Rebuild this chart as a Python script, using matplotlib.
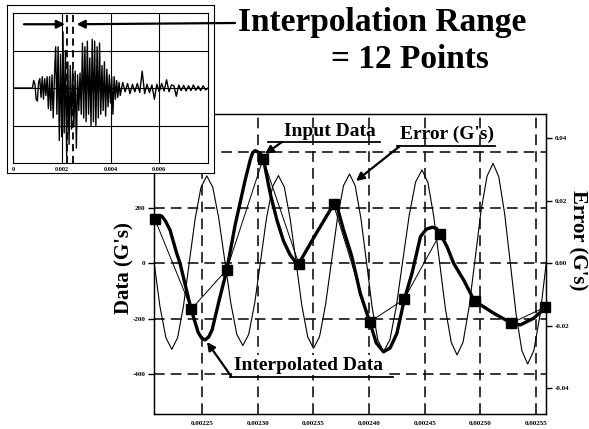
import matplotlib.pyplot as plt
from matplotlib.lines import Line2D

plt.rcParams['font.family'] = ['Liberation Serif', 'DejaVu Serif']
plt.rcParams['font.weight'] = 'bold'

# ---- main plot data (time in s, data in G's) ----
input_t = [0.0022077, 0.0022404, 0.0022722, 0.0023048, 0.0023370, 0.0023681,
           0.0024006, 0.0024314, 0.0024635, 0.0024948, 0.0025280, 0.0025582]
input_g = [157, -166, -24, 375, -4, 211, -212, -131, 103, -137, -216, -159]

interp_t = [0.0022077, 0.0022110, 0.0022138, 0.0022170, 0.0022212, 0.0022272,
            0.0022302, 0.0022401, 0.0022464, 0.0022495, 0.0022527, 0.0022560,
            0.0022590, 0.0022647, 0.0022722, 0.0022797, 0.0022887, 0.0022932,
            0.0022955, 0.0022977, 0.0023023, 0.0023051, 0.0023112, 0.0023172,
            0.0023231, 0.0023290, 0.0023336, 0.0023366, 0.0023523, 0.0023681,
            0.0023705, 0.0023771, 0.0023846, 0.0023921, 0.0024005, 0.0024065,
            0.0024130, 0.0024190, 0.0024251, 0.0024317, 0.0024386, 0.0024462,
            0.0024515, 0.0024567, 0.0024605, 0.0024640, 0.0024701, 0.0024760,
            0.0024850, 0.0024946, 0.0025120, 0.0025278, 0.0025360, 0.0025479,
            0.0025585]
interp_g = [157, 166, 169, 152, 119, 35,
            -1, -166, -249, -270, -277, -266,
            -241, -145, -25, 137, 299, 371,
            398, 405, 396, 375, 251, 155,
            80, 30, 5, -4, 105, 211,
            215, 119, 23, -109, -211, -288,
            -320, -306, -253, -131, -37, 95,
            122, 129, 125, 105, 59, -1,
            -61, -136, -181, -216, -223, -199,
            -161]

err_t = [0.0022068, 0.0022121, 0.0022175, 0.0022228,
         0.0022280, 0.0022333, 0.0022385, 0.0022437, 0.0022490, 0.0022542,
         0.0022596, 0.0022650, 0.0022704, 0.0022758, 0.0022812, 0.0022866,
         0.0022919, 0.0022973, 0.0023026, 0.0023079, 0.0023133, 0.0023186,
         0.0023239, 0.0023291, 0.0023344, 0.0023396, 0.0023449, 0.0023501,
         0.0023555, 0.0023609, 0.0023663, 0.0023717, 0.0023771, 0.0023825,
         0.0023876, 0.0023927, 0.0023978, 0.0024028, 0.0024079, 0.0024130,
         0.0024188, 0.0024245, 0.0024303, 0.0024361, 0.0024418, 0.0024476,
         0.0024529, 0.0024581, 0.0024634, 0.0024686, 0.0024739, 0.0024791,
         0.0024845, 0.0024899, 0.0024953, 0.0025006, 0.0025060, 0.0025114,
         0.0025166, 0.0025218, 0.0025270, 0.0025321, 0.0025373, 0.0025425,
         0.0025481, 0.0025538, 0.0025594]
err_g = [0.0005, -0.0138, -0.0239, -0.0276,
         -0.0239, -0.0137, 0.0002, 0.0140, 0.0242, 0.0279,
         0.0243, 0.0143, 0.0008, -0.0128, -0.0228, -0.0264,
         -0.0228, -0.0128, 0.0008, 0.0144, 0.0244, 0.0280,
         0.0243, 0.0142, 0.0004, -0.0135, -0.0236, -0.0273,
         -0.0236, -0.0134, 0.0006, 0.0146, 0.0248, 0.0285,
         0.0247, 0.0143, 0.0001, -0.0142, -0.0246, -0.0284,
         -0.0245, -0.0139, 0.0007, 0.0153, 0.0259, 0.0298,
         0.0258, 0.0150, 0.0002, -0.0146, -0.0254, -0.0294,
         -0.0253, -0.0141, 0.0013, 0.0166, 0.0278, 0.0319,
         0.0276, 0.0159, -0.0002, -0.0163, -0.0280, -0.0323,
         -0.0280, -0.0162, 0.0005]

x_ticks = [0.00225, 0.00230, 0.00235, 0.00240, 0.00245, 0.00250, 0.00255]
x_labels = ['0.00225', '0.00230', '0.00235', '0.00240', '0.00245', '0.00250', '0.00255']
left_ticks = [400, 200, 0, -200, -400]
left_labels = ['400', '200', '0', '-200', '-400']
right_ticks = [0.04, 0.02, 0.0, -0.02, -0.04]
right_labels = ['0.04', '0.02', '0.00', '-0.02', '-0.04']

# ---- inset: full record (time in ms, arbitrary units) ----
inset_ms = [0.0, 0.80,
            0.85, 0.90, 0.95, 1.00, 1.05, 1.10, 1.15, 1.20, 1.25, 1.30, 1.35, 1.40,
            1.45, 1.50, 1.55, 1.60, 1.65, 1.70,
            1.75, 1.80, 1.85, 1.90, 1.95, 2.00, 2.05, 2.10, 2.15, 2.20, 2.25, 2.30,
            2.35, 2.40, 2.45, 2.50, 2.55, 2.60, 2.65, 2.70, 2.75, 2.80, 2.85, 2.90,
            2.95, 3.00, 3.05, 3.10, 3.15, 3.20, 3.25, 3.30, 3.35, 3.40, 3.45, 3.50,
            3.55, 3.60, 3.65, 3.70, 3.75, 3.80, 3.85, 3.90, 3.95, 4.00, 4.05, 4.10,
            4.15, 4.20, 4.25, 4.30, 4.35, 4.40,
            4.5, 4.6, 4.7, 4.8, 4.9, 5.0, 5.1, 5.2, 5.3, 5.4, 5.5, 5.6, 5.7, 5.8,
            5.9, 6.0, 6.1, 6.2, 6.3, 6.4, 6.5, 6.6, 6.7, 6.8, 6.9, 7.0, 7.1, 7.2,
            7.3, 7.4, 7.5, 7.6, 7.7, 7.8, 7.9, 8.0]
inset_v = [0.0, 0.0,
           0.2, 0.1, -0.3, -0.35, 0.15, 0.25, -0.25, 0.3, -0.3, 0.25, -0.2, 0.3,
           -0.55, 0.3, -0.6, 0.35, -0.8, 0.3,
           1.1, -0.7, 1.1, -1.4, 0.9, -1.3, 1.5, -1.2, 1.0, -1.8, 0.7, -1.5,
           0.6, -1.1, 0.5, -1.0, 0.45, -1.6, 0.35, -0.6, 0.4, -0.7, 1.2, -0.8,
           1.1, -0.9, 1.25, -0.7, 0.8, -1.0, 1.3, -0.9, 1.25, -1.0, 1.1, -0.8,
           1.2, -0.7, 0.6, -0.6, 0.7, -0.75, 0.5, -0.5, 0.35, -0.4, 0.3, -0.7,
           0.3, -0.3, 0.2, -0.25, 0.15, -0.2,
           0.15, -0.1, 0.12, -0.15, 0.1, -0.1, 0.12, -0.12, 0.45, -0.15, 0.1, -0.12, 0.08, -0.3,
           0.1, -0.1, 0.12, -0.08, 0.22, -0.1, 0.08, 0.06, -0.22, 0.08, -0.07, 0.07, -0.08, 0.06,
           -0.07, 0.08, -0.06, 0.05, -0.07, 0.06, -0.05, 0.0]
window_ms = [2.21, 2.47]
inset_ticks = [0.0, 2.0, 4.0, 6.0]
inset_labels = ['0', '0.002', '0.004', '0.006']

W, H = 589, 429
fig = plt.figure(figsize=(W / 100, H / 100), dpi=100)


def fx(px):
    return px / W


def fy(py):
    return 1 - py / H


# ---- main axes ----
ax = fig.add_axes([fx(154), fy(414), fx(546) - fx(154), fy(114) - fy(414)])
ax.plot(input_t, input_g, color='k', lw=0.7, zorder=3)
ax.plot(input_t, input_g, 's', color='k', ms=7, zorder=5, clip_on=False)
ax.plot(interp_t, interp_g, color='k', lw=2.4, zorder=4,
        solid_joinstyle='round', solid_capstyle='round')
ax.set_xlim(0.0022068, 0.002559)
ax.set_ylim(-544, 537)
ax.set_xticks(x_ticks)
ax.set_xticklabels(x_labels)
ax.set_yticks(left_ticks)
ax.set_yticklabels(left_labels)
ax.grid(True, color='k', lw=1.1, linestyle=(0, (7, 4)))
ax.tick_params(axis='x', length=0, pad=5, labelsize=5)
ax.tick_params(axis='y', length=4, width=1, direction='out', labelsize=5, pad=2)
for s in ax.spines.values():
    s.set_linewidth(1.0)

ax2 = ax.twinx()
ax2.plot(err_t, err_g, color='k', lw=0.8)
ax2.set_ylim(-0.0483, 0.0477)
ax2.set_yticks(right_ticks)
ax2.set_yticklabels(right_labels)
ax2.tick_params(axis='y', length=4, width=1, direction='out', labelsize=5, pad=2)

fig.text(fx(124), fy(268), "Data (G's)", rotation=90, ha='center', va='center',
         fontsize=15, weight='bold')
fig.text(fx(578), fy(240), "Error (G's)", rotation=-90, ha='center', va='center',
         fontsize=15, weight='bold')

# ---- annotations on main plot ----
arrow_kw = dict(arrowstyle='-|>', color='k', lw=1.6, mutation_scale=12, shrinkA=0, shrinkB=0)

fig.text(fx(330), fy(131), "Input Data", ha='center', va='center', fontsize=14, weight='bold')
fig.add_artist(Line2D([fx(268), fx(380)], [fy(142), fy(142)], color='k', lw=1.3))
ax.annotate('', xy=(fx(265), fy(154)), xycoords='figure fraction',
            xytext=(fx(282), fy(142)), textcoords='figure fraction', arrowprops=arrow_kw)

fig.text(fx(447), fy(134), "Error (G's)", ha='center', va='center', fontsize=14, weight='bold')
fig.add_artist(Line2D([fx(397), fx(495)], [fy(146), fy(146)], color='k', lw=1.3))
ax.annotate('', xy=(fx(356), fy(181)), xycoords='figure fraction',
            xytext=(fx(400), fy(146)), textcoords='figure fraction', arrowprops=arrow_kw)

fig.text(fx(309), fy(365), "Interpolated Data", ha='center', va='center', fontsize=14,
         weight='bold', bbox=dict(fc='white', ec='none', pad=1), zorder=6)
fig.add_artist(Line2D([fx(230), fx(393)], [fy(377), fy(377)], color='k', lw=1.3, zorder=7))
ax.annotate('', xy=(fx(207), fy(342)), xycoords='figure fraction',
            xytext=(fx(231), fy(376)), textcoords='figure fraction', arrowprops=arrow_kw)

# ---- inset ----
frame = fig.add_axes([fx(7), fy(173), fx(214) - fx(7), fy(5) - fy(173)])
frame.set_xticks([])
frame.set_yticks([])
frame.set_facecolor('white')
frame.set_zorder(5)

ia = fig.add_axes([fx(13), fy(163), fx(208) - fx(13), fy(13) - fy(163)])
ia.set_zorder(6)
ia.plot(inset_ms, inset_v, color='k', lw=1.0)
ia.set_xlim(0, 8.0)
ia.set_ylim(-2, 2)
ia.set_xticks(inset_ticks)
ia.set_xticklabels(inset_labels)
ia.set_yticks([-1, 0, 1])
ia.set_yticklabels([])
ia.grid(True, color='k', lw=0.8)
ia.tick_params(length=0, labelsize=4.5, pad=3)
for w in window_ms:
    ia.axvline(w, color='k', lw=1.3, linestyle=(0, (4, 2.5)))
ia.annotate('', xy=(2.13, 1.7), xytext=(0.45, 1.7), arrowprops=arrow_kw)
ia.annotate('', xy=(2.61, 1.7), xycoords='data',
            xytext=(fx(235), fy(23)), textcoords='figure fraction',
            arrowprops=arrow_kw, annotation_clip=False)

fig.text(fx(238), fy(22), "Interpolation Range", ha='left', va='center',
         fontsize=24, weight='bold')
fig.text(fx(410), fy(60), "= 12 Points", ha='center', va='center',
         fontsize=24, weight='bold')

fig.savefig('out.png', dpi=100)
